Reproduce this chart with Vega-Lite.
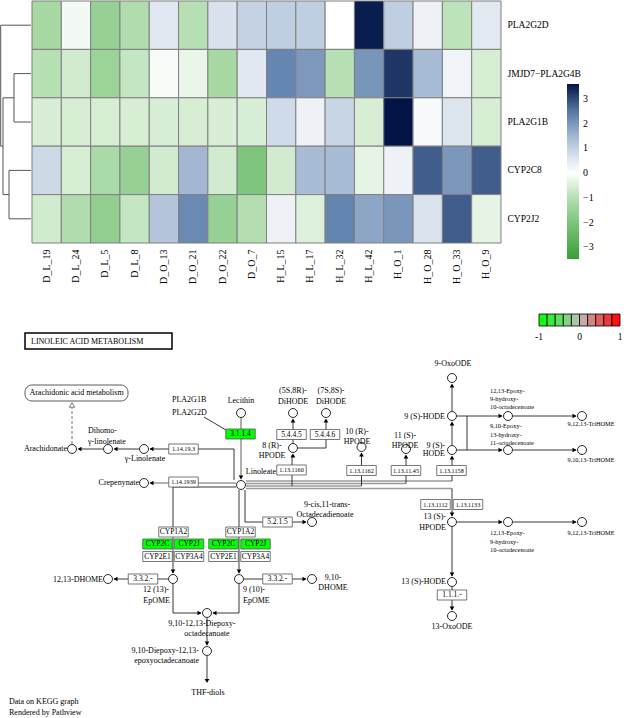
{
  "$schema": "https://vega.github.io/schema/vega-lite/v6.json",
  "padding": 0,
  "background": "white",
  "bounds": "full",
  "spacing": 16,
  "config": {"view": {"stroke": null}, "font": "Liberation Serif", "text": {"font": "Liberation Serif"}},
  "datasets": {
    "heat": [
      {"g":"PLA2G2D","s":"D_L_19","v":-1.23},{"g":"PLA2G2D","s":"D_L_24","v":-0.16},{"g":"PLA2G2D","s":"D_L_5","v":-1.55},{"g":"PLA2G2D","s":"D_L_8","v":-1.07},
      {"g":"PLA2G2D","s":"D_O_13","v":0.51},{"g":"PLA2G2D","s":"D_O_21","v":-0.99},{"g":"PLA2G2D","s":"D_O_22","v":0.65},{"g":"PLA2G2D","s":"D_O_7","v":1.01},
      {"g":"PLA2G2D","s":"H_L_15","v":1.1},{"g":"PLA2G2D","s":"H_L_17","v":1.1},{"g":"PLA2G2D","s":"H_L_32","v":0.0},{"g":"PLA2G2D","s":"H_L_42","v":3.5},
      {"g":"PLA2G2D","s":"H_O_1","v":1.1},{"g":"PLA2G2D","s":"H_O_28","v":0.29},{"g":"PLA2G2D","s":"H_O_33","v":-0.89},{"g":"PLA2G2D","s":"H_O_9","v":0.5},
      {"g":"JMJD7−PLA2G4B","s":"D_L_19","v":-0.97},{"g":"JMJD7−PLA2G4B","s":"D_L_24","v":-0.61},{"g":"JMJD7−PLA2G4B","s":"D_L_5","v":-1.46},{"g":"JMJD7−PLA2G4B","s":"D_L_8","v":-0.78},
      {"g":"JMJD7−PLA2G4B","s":"D_O_13","v":-0.09},{"g":"JMJD7−PLA2G4B","s":"D_O_21","v":-0.28},{"g":"JMJD7−PLA2G4B","s":"D_O_22","v":-1.23},{"g":"JMJD7−PLA2G4B","s":"D_O_7","v":0.51},
      {"g":"JMJD7−PLA2G4B","s":"H_L_15","v":2.29},{"g":"JMJD7−PLA2G4B","s":"H_L_17","v":2.0},{"g":"JMJD7−PLA2G4B","s":"H_L_32","v":-0.96},{"g":"JMJD7−PLA2G4B","s":"H_L_42","v":2.06},
      {"g":"JMJD7−PLA2G4B","s":"H_O_1","v":3.22},{"g":"JMJD7−PLA2G4B","s":"H_O_28","v":1.41},{"g":"JMJD7−PLA2G4B","s":"H_O_33","v":0.26},{"g":"JMJD7−PLA2G4B","s":"H_O_9","v":-0.54},
      {"g":"PLA2G1B","s":"D_L_19","v":-0.53},{"g":"PLA2G1B","s":"D_L_24","v":-0.54},{"g":"PLA2G1B","s":"D_L_5","v":-0.54},{"g":"PLA2G1B","s":"D_L_8","v":-0.54},
      {"g":"PLA2G1B","s":"D_O_13","v":-0.53},{"g":"PLA2G1B","s":"D_O_21","v":-0.54},{"g":"PLA2G1B","s":"D_O_22","v":-0.53},{"g":"PLA2G1B","s":"D_O_7","v":-0.53},
      {"g":"PLA2G1B","s":"H_L_15","v":0.8},{"g":"PLA2G1B","s":"H_L_17","v":0.29},{"g":"PLA2G1B","s":"H_L_32","v":0.94},{"g":"PLA2G1B","s":"H_L_42","v":-0.54},
      {"g":"PLA2G1B","s":"H_O_1","v":3.6},{"g":"PLA2G1B","s":"H_O_28","v":0.14},{"g":"PLA2G1B","s":"H_O_33","v":0.58},{"g":"PLA2G1B","s":"H_O_9","v":-0.54},
      {"g":"CYP2C8","s":"D_L_19","v":0.84},{"g":"CYP2C8","s":"D_L_24","v":-0.54},{"g":"CYP2C8","s":"D_L_5","v":-1.2},{"g":"CYP2C8","s":"D_L_8","v":-1.55},
      {"g":"CYP2C8","s":"D_O_13","v":-0.61},{"g":"CYP2C8","s":"D_O_21","v":1.49},{"g":"CYP2C8","s":"D_O_22","v":-0.61},{"g":"CYP2C8","s":"D_O_7","v":-1.95},
      {"g":"CYP2C8","s":"H_L_15","v":-0.61},{"g":"CYP2C8","s":"H_L_17","v":1.41},{"g":"CYP2C8","s":"H_L_32","v":1.41},{"g":"CYP2C8","s":"H_L_42","v":-0.34},
      {"g":"CYP2C8","s":"H_O_1","v":0.29},{"g":"CYP2C8","s":"H_O_28","v":2.79},{"g":"CYP2C8","s":"H_O_33","v":2.02},{"g":"CYP2C8","s":"H_O_9","v":2.79},
      {"g":"CYP2J2","s":"D_L_19","v":-0.62},{"g":"CYP2J2","s":"D_L_24","v":-1.07},{"g":"CYP2J2","s":"D_L_5","v":-1.63},{"g":"CYP2J2","s":"D_L_8","v":-0.78},
      {"g":"CYP2J2","s":"D_O_13","v":1.28},{"g":"CYP2J2","s":"D_O_21","v":2.24},{"g":"CYP2J2","s":"D_O_22","v":-1.52},{"g":"CYP2J2","s":"D_O_7","v":-1.02},
      {"g":"CYP2J2","s":"H_L_15","v":0.29},{"g":"CYP2J2","s":"H_L_17","v":-0.46},{"g":"CYP2J2","s":"H_L_32","v":2.32},{"g":"CYP2J2","s":"H_L_42","v":1.77},
      {"g":"CYP2J2","s":"H_O_1","v":2.03},{"g":"CYP2J2","s":"H_O_28","v":0.63},{"g":"CYP2J2","s":"H_O_33","v":2.79},{"g":"CYP2J2","s":"H_O_9","v":-0.34}
    ],
    "dendro": [
      {"h1":0,"h2":30.3,"r1":0.5,"r2":0.5},
      {"h1":30.3,"h2":30.3,"r1":0.5,"r2":3.0},
      {"h1":28,"h2":30.3,"r1":3.0,"r2":3.0},
      {"h1":28,"h2":28,"r1":2.0,"r2":4.0},
      {"h1":17,"h2":28,"r1":2.0,"r2":2.0},
      {"h1":17,"h2":17,"r1":1.5,"r2":2.5},
      {"h1":0,"h2":17,"r1":1.5,"r2":1.5},
      {"h1":0,"h2":17,"r1":2.5,"r2":2.5},
      {"h1":22,"h2":28,"r1":4.0,"r2":4.0},
      {"h1":22,"h2":22,"r1":3.5,"r2":4.5},
      {"h1":0,"h2":22,"r1":3.5,"r2":3.5},
      {"h1":0,"h2":22,"r1":4.5,"r2":4.5}
    ],
    "enz": [
      {"x":240.5,"y":434,"t":"3.1.1.4","hit":"yes"},
      {"x":291.5,"y":434.5,"t":"5.4.4.5","hit":"no"},
      {"x":325,"y":434.5,"t":"5.4.4.6","hit":"no"},
      {"x":291.5,"y":470,"t":"1.13.1160","hit":"no"},
      {"x":361.5,"y":470.5,"t":"1.13.1162","hit":"no"},
      {"x":406,"y":470.5,"t":"1.13.11.45","hit":"no"},
      {"x":451.5,"y":470.5,"t":"1.13.1158","hit":"no"},
      {"x":183.5,"y":449,"t":"1.14.19.3","hit":"no"},
      {"x":183.5,"y":482,"t":"1.14.1939","hit":"no"},
      {"x":277.5,"y":522,"t":"5.2.1.5","hit":"no"},
      {"x":173.5,"y":532,"t":"CYP1A2","hit":"no"},
      {"x":157.5,"y":544,"t":"CYP2C","hit":"yes"},
      {"x":189,"y":544,"t":"CYP2J","hit":"yes"},
      {"x":157.5,"y":556.5,"t":"CYP2E1","hit":"no"},
      {"x":189,"y":556.5,"t":"CYP3A4","hit":"no"},
      {"x":240.5,"y":532,"t":"CYP1A2","hit":"no"},
      {"x":223.5,"y":544,"t":"CYP2C","hit":"yes"},
      {"x":255.5,"y":544,"t":"CYP2J","hit":"yes"},
      {"x":223.5,"y":556.5,"t":"CYP2E1","hit":"no"},
      {"x":255.5,"y":556.5,"t":"CYP3A4","hit":"no"},
      {"x":143,"y":579,"t":"3.3.2.-","hit":"no"},
      {"x":277.5,"y":579,"t":"3.3.2.-","hit":"no"},
      {"x":435.5,"y":504.5,"t":"1.13.1112","hit":"no"},
      {"x":468,"y":504.5,"t":"1.13.1133","hit":"no"},
      {"x":452,"y":595,"t":"1.1.1.-","hit":"no"}
    ],
    "cpd": [
      {"x":241,"y":413},{"x":293,"y":413},{"x":326,"y":413},{"x":293,"y":448},{"x":361.5,"y":447},
      {"x":406,"y":449},{"x":452,"y":450},{"x":452,"y":416},{"x":452,"y":378},{"x":508,"y":416},
      {"x":582,"y":416},{"x":508,"y":450},{"x":582,"y":450},{"x":241,"y":485},{"x":144,"y":483},
      {"x":144,"y":449},{"x":108,"y":449},{"x":72,"y":449},{"x":312,"y":522},{"x":173,"y":579},
      {"x":239,"y":579},{"x":108,"y":579},{"x":312,"y":579},{"x":207,"y":613},{"x":207,"y":651},
      {"x":452,"y":522},{"x":508,"y":522},{"x":582,"y":522},{"x":452,"y":582},{"x":452,"y":616}
    ],
    "edges": [
      {"x":150,"y":449,"x2":234,"y2":449,"k":"b"},{"x":234,"y":449,"x2":234,"y2":480,"k":"b"},
      {"x":139,"y":449,"x2":115,"y2":449,"k":"b"},{"x":103,"y":449,"x2":79,"y2":449,"k":"b"},
      {"x":204,"y":417,"x2":226,"y2":430,"k":"b"},{"x":293,"y":443,"x2":293,"y2":420,"k":"b"},
      {"x":298,"y":448,"x2":326,"y2":448,"k":"b"},{"x":326,"y":448,"x2":326,"y2":420,"k":"b"},
      {"x":292,"y":486,"x2":292,"y2":455,"k":"b"},{"x":361.5,"y":486,"x2":361.5,"y2":454,"k":"b"},
      {"x":406,"y":483.5,"x2":406,"y2":456,"k":"b"},{"x":452,"y":481,"x2":452,"y2":457,"k":"b"},
      {"x":452,"y":445,"x2":452,"y2":423,"k":"b"},{"x":452,"y":411,"x2":452,"y2":385,"k":"b"},
      {"x":457,"y":416,"x2":502,"y2":416,"k":"b"},{"x":513,"y":416,"x2":576,"y2":416,"k":"b"},
      {"x":467,"y":416,"x2":467,"y2":450,"k":"b"},{"x":457,"y":450,"x2":502,"y2":450,"k":"b"},
      {"x":513,"y":450,"x2":576,"y2":450,"k":"b"},{"x":452,"y":488.5,"x2":452,"y2":516,"k":"b"},
      {"x":457,"y":522,"x2":502,"y2":522,"k":"b"},{"x":513,"y":522,"x2":576,"y2":522,"k":"b"},
      {"x":452,"y":527,"x2":452,"y2":576,"k":"b"},{"x":452,"y":587,"x2":452,"y2":610,"k":"b"},
      {"x":245,"y":490,"x2":245,"y2":522,"k":"b"},{"x":245,"y":522,"x2":306,"y2":522,"k":"b"},
      {"x":236,"y":487,"x2":173,"y2":487,"k":"b"},{"x":173,"y":487,"x2":173,"y2":573,"k":"b"},
      {"x":239,"y":490,"x2":239,"y2":573,"k":"b"},{"x":168,"y":579,"x2":114,"y2":579,"k":"b"},
      {"x":244,"y":579,"x2":306,"y2":579,"k":"b"},{"x":173,"y":584,"x2":173,"y2":613,"k":"b"},
      {"x":173,"y":613,"x2":201,"y2":613,"k":"b"},{"x":239,"y":584,"x2":239,"y2":613,"k":"b"},
      {"x":239,"y":613,"x2":213,"y2":613,"k":"b"},{"x":207,"y":618,"x2":207,"y2":645,"k":"b"},
      {"x":207,"y":656,"x2":207,"y2":681,"k":"b"},
      {"x":241,"y":418,"x2":241,"y2":477,"k":"g"},{"x":236,"y":483,"x2":150,"y2":483,"k":"g"},
      {"x":246,"y":481,"x2":452,"y2":481,"k":"g"},{"x":246,"y":483.5,"x2":406,"y2":483.5,"k":"g"},
      {"x":246,"y":486,"x2":361.5,"y2":486,"k":"g"},{"x":246,"y":488.5,"x2":452,"y2":488.5,"k":"g"},
      {"x":72,"y":444,"x2":72,"y2":408,"k":"d"}
    ],
    "arrows": [
      {"x":151.5,"y":449,"d":"left"},{"x":115.5,"y":449,"d":"left"},{"x":79.5,"y":449,"d":"left"},{"x":151.5,"y":483,"d":"left"},
      {"x":293,"y":455.5,"d":"up"},{"x":293,"y":420.5,"d":"up"},{"x":326,"y":420.5,"d":"up"},{"x":361.5,"y":454.5,"d":"up"},
      {"x":406,"y":456.5,"d":"up"},{"x":452,"y":457.5,"d":"up"},{"x":452,"y":423.5,"d":"up"},{"x":452,"y":385.5,"d":"up"},
      {"x":500.5,"y":416,"d":"right"},{"x":574.5,"y":416,"d":"right"},{"x":500.5,"y":450,"d":"right"},{"x":574.5,"y":450,"d":"right"},
      {"x":452,"y":514.5,"d":"down"},{"x":500.5,"y":522,"d":"right"},{"x":574.5,"y":522,"d":"right"},{"x":452,"y":574.5,"d":"down"},
      {"x":452,"y":608.5,"d":"down"},{"x":241,"y":477.5,"d":"down"},{"x":304.5,"y":522,"d":"right"},{"x":173,"y":571.5,"d":"down"},
      {"x":239,"y":571.5,"d":"down"},{"x":115.5,"y":579,"d":"left"},{"x":304.5,"y":579,"d":"right"},{"x":199.5,"y":613,"d":"right"},
      {"x":214.5,"y":613,"d":"left"},{"x":207,"y":643.5,"d":"down"},{"x":207,"y":681,"d":"down"}
    ],
    "lab": [
      {"x":241,"y":401,"t":"Lecithin","a":"c","k":"n"},
      {"x":293,"y":391,"t":"(5S,8R)-","a":"c","k":"n"},{"x":293,"y":402,"t":"DiHODE","a":"c","k":"n"},
      {"x":331,"y":391,"t":"(7S,8S)-","a":"c","k":"n"},{"x":331,"y":402,"t":"DiHODE","a":"c","k":"n"},
      {"x":272,"y":446,"t":"8 (R)-","a":"c","k":"n"},{"x":272,"y":456,"t":"HPODE","a":"c","k":"n"},
      {"x":357,"y":432,"t":"10 (R)-","a":"c","k":"n"},{"x":357,"y":442,"t":"HPODE","a":"c","k":"n"},
      {"x":405,"y":436,"t":"11 (S)-","a":"c","k":"n"},{"x":405,"y":446,"t":"HPODE","a":"c","k":"n"},
      {"x":453,"y":364,"t":"9-OxoODE","a":"c","k":"n"},
      {"x":145,"y":459,"t":"γ-Linolenate","a":"c","k":"n"},
      {"x":327,"y":505,"t":"9-cis,11-trans-","a":"c","k":"n"},{"x":325,"y":515,"t":"Octadecadienoate","a":"c","k":"n"},
      {"x":202,"y":624,"t":"9,10-12,13-Diepoxy-","a":"c","k":"n"},{"x":207,"y":634,"t":"octadecanoate","a":"c","k":"n"},
      {"x":208,"y":693,"t":"THF-diols","a":"c","k":"n"},
      {"x":452,"y":627,"t":"13-OxoODE","a":"c","k":"n"},
      {"x":76.5,"y":393,"t":"Arachidonic acid metabolism","a":"c","k":"n"},
      {"x":333,"y":578,"t":"9,10-","a":"c","k":"n"},{"x":333,"y":588,"t":"DHOME","a":"c","k":"n"},
      {"x":67,"y":449,"t":"Arachidonate","a":"r","k":"n"},
      {"x":139,"y":483,"t":"Crepenynate","a":"r","k":"n"},
      {"x":276,"y":472,"t":"Linoleate","a":"r","k":"n"},
      {"x":445,"y":417,"t":"9 (S)-HODE","a":"r","k":"n"},
      {"x":445,"y":446,"t":"9 (S)-","a":"r","k":"n"},{"x":445,"y":454,"t":"HODE","a":"r","k":"n"},
      {"x":446,"y":517,"t":"13 (S)-","a":"r","k":"n"},{"x":446,"y":528,"t":"HPODE","a":"r","k":"n"},
      {"x":446,"y":582,"t":"13 (S)-HODE","a":"r","k":"n"},
      {"x":103,"y":580,"t":"12,13-DHOME","a":"r","k":"n"},
      {"x":199,"y":651,"t":"9,10-Diepoxy-12,13-","a":"r","k":"n"},{"x":199,"y":661,"t":"epoxyoctadecanoate","a":"r","k":"n"},
      {"x":169,"y":590,"t":"12 (13)-","a":"r","k":"n"},{"x":170,"y":601,"t":"EpOME","a":"r","k":"n"},
      {"x":88,"y":431,"t":"Dihomo-","a":"l","k":"n"},{"x":88,"y":442,"t":"γ-linolenate","a":"l","k":"n"},
      {"x":172,"y":400,"t":"PLA2G1B","a":"l","k":"n"},{"x":172,"y":413,"t":"PLA2G2D","a":"l","k":"n"},
      {"x":31,"y":342,"t":"LINOLEIC ACID METABOLISM","a":"l","k":"n"},
      {"x":9,"y":702,"t":"Data on KEGG graph","a":"l","k":"n"},{"x":9,"y":713,"t":"Rendered by Pathview","a":"l","k":"n"},
      {"x":243,"y":590,"t":"9 (10)-","a":"l","k":"n"},{"x":243,"y":601,"t":"EpOME","a":"l","k":"n"},
      {"x":490,"y":391,"t":"12,13-Epoxy-","a":"l","k":"s"},{"x":490,"y":399,"t":"9-hydroxy-","a":"l","k":"s"},{"x":490,"y":407,"t":"10-octadecenoate","a":"l","k":"s"},
      {"x":490,"y":426,"t":"9,10-Epoxy-","a":"l","k":"s"},{"x":490,"y":435,"t":"13-hydroxy-","a":"l","k":"s"},{"x":490,"y":443,"t":"11-octadecenoate","a":"l","k":"s"},
      {"x":490,"y":533,"t":"12,13-Epoxy-","a":"l","k":"s"},{"x":490,"y":542,"t":"9-hydroxy-","a":"l","k":"s"},{"x":490,"y":550,"t":"10-octadecenoate","a":"l","k":"s"},
      {"x":591,"y":424,"t":"9,12,13-TriHOME","a":"c","k":"s"},
      {"x":591,"y":460,"t":"9,10,13-TriHOME","a":"c","k":"s"},
      {"x":591,"y":533,"t":"9,12,13-TriHOME","a":"c","k":"s"}
    ],
    "key": [
      {"lo":-1.0,"hi":-0.8,"m":-0.9},{"lo":-0.8,"hi":-0.6,"m":-0.7},{"lo":-0.6,"hi":-0.4,"m":-0.5},{"lo":-0.4,"hi":-0.2,"m":-0.3},{"lo":-0.2,"hi":0.0,"m":-0.1},
      {"lo":0.0,"hi":0.2,"m":0.1},{"lo":0.2,"hi":0.4,"m":0.3},{"lo":0.4,"hi":0.6,"m":0.5},{"lo":0.6,"hi":0.8,"m":0.7},{"lo":0.8,"hi":1.0,"m":0.9}
    ]
  },
  "vconcat": [
    {
      "bounds": "flush",
      "spacing": 1,
      "hconcat": [
        {
          "width": 31,
          "height": 242,
          "data": {"name": "dendro"},
          "mark": {"type": "rule", "color": "#555555", "strokeWidth": 1},
          "encoding": {
            "x": {"field": "h1", "type": "quantitative", "scale": {"domain": [0, 31], "reverse": true, "nice": false, "zero": false}, "axis": null},
            "x2": {"field": "h2"},
            "y": {"field": "r1", "type": "quantitative", "scale": {"domain": [0, 5], "reverse": true, "nice": false, "zero": false}, "axis": null},
            "y2": {"field": "r2"}
          }
        },
        {
          "width": 469,
          "height": 242,
          "data": {"name": "heat"},
          "mark": {"type": "rect", "stroke": "#7f7f7f", "strokeWidth": 1},
          "encoding": {
            "x": {
              "field": "s", "type": "nominal",
              "sort": ["D_L_19","D_L_24","D_L_5","D_L_8","D_O_13","D_O_21","D_O_22","D_O_7","H_L_15","H_L_17","H_L_32","H_L_42","H_O_1","H_O_28","H_O_33","H_O_9"],
              "scale": {"paddingInner": 0, "paddingOuter": 0},
              "axis": {"title": null, "orient": "bottom", "labelAngle": 270, "ticks": false, "domain": false, "labelFontSize": 10, "labelPadding": 6, "labelFont": "Liberation Serif", "labelColor": "#000000"}
            },
            "y": {
              "field": "g", "type": "nominal",
              "sort": ["PLA2G2D","JMJD7−PLA2G4B","PLA2G1B","CYP2C8","CYP2J2"],
              "scale": {"paddingInner": 0, "paddingOuter": 0},
              "axis": {"title": null, "orient": "right", "ticks": false, "domain": false, "labelFontSize": 9.5, "labelPadding": 6, "labelFont": "Liberation Serif", "labelColor": "#000000"}
            },
            "color": {
              "field": "v", "type": "quantitative",
              "scale": {"domain": [-3.47, -2, -1, 0, 1.2, 2.4, 3.6], "range": ["#38a036","#7dc47b","#b5dfb2","#ffffff","#b9c9de","#5e80ac","#021446"], "interpolate": "rgb"},
              "legend": {"title": null, "orient": "none", "legendX": 567, "legendY": 83, "direction": "vertical", "gradientLength": 175, "gradientThickness": 12, "gradientStrokeWidth": 0, "values": [-3,-2,-1,0,1,2,3], "labelFontSize": 10, "labelFont": "Liberation Serif", "labelOffset": 4, "labelColor": "#000000"}
            }
          }
        }
      ]
    },
    {
      "width": 626,
      "height": 418,
      "resolve": {"scale": {"x": "independent", "fill": "independent"}},
      "layer": [
        {
          "encoding": {
            "x": {"field": "x", "type": "quantitative", "scale": {"domain": [0, 626], "nice": false, "zero": false}, "axis": null},
            "y": {"field": "y", "type": "quantitative", "scale": {"domain": [300, 718], "reverse": true, "nice": false, "zero": false}, "axis": null}
          },
          "layer": [
            {"data": {"name": "edges"}, "transform": [{"filter": "datum.k == 'g'"}], "mark": {"type": "rule", "color": "#9a9a9a", "strokeWidth": 1.6}, "encoding": {"x2": {"field": "x2"}, "y2": {"field": "y2"}}},
            {"data": {"name": "edges"}, "transform": [{"filter": "datum.k == 'b'"}], "mark": {"type": "rule", "color": "#222222", "strokeWidth": 0.9}, "encoding": {"x2": {"field": "x2"}, "y2": {"field": "y2"}}},
            {"data": {"name": "edges"}, "transform": [{"filter": "datum.k == 'd'"}], "mark": {"type": "rule", "color": "#777777", "strokeWidth": 1, "strokeDash": [3, 2]}, "encoding": {"x2": {"field": "x2"}, "y2": {"field": "y2"}}},
            {"data": {"values": [{"x": 25, "x2": 172, "y": 333, "y2": 349}]}, "mark": {"type": "rect", "fill": "white", "stroke": "black", "strokeWidth": 1.5}, "encoding": {"x2": {"field": "x2"}, "y2": {"field": "y2"}}},
            {"data": {"values": [{"x": 25, "x2": 128, "y": 385, "y2": 401}]}, "mark": {"type": "rect", "fill": "white", "stroke": "#333333", "strokeWidth": 0.8, "cornerRadius": 7}, "encoding": {"x2": {"field": "x2"}, "y2": {"field": "y2"}}},
            {"data": {"name": "enz"}, "mark": {"type": "point", "shape": "M-1,-0.34H1V0.34H-1Z", "size": 870, "filled": true, "opacity": 1, "stroke": "#555555", "strokeWidth": 0.8}, "encoding": {"fill": {"field": "hit", "type": "nominal", "scale": {"domain": ["yes", "no"], "range": ["#00ff00", "#ffffff"]}, "legend": null}}},
            {"data": {"name": "enz"}, "transform": [{"filter": "length(datum.t) <= 7"}], "mark": {"type": "text", "fontSize": 7.5, "baseline": "middle", "align": "center", "font": "Liberation Serif", "color": "#000000"}, "encoding": {"text": {"field": "t"}}},
            {"data": {"name": "enz"}, "transform": [{"filter": "length(datum.t) > 7"}], "mark": {"type": "text", "fontSize": 6.2, "baseline": "middle", "align": "center", "font": "Liberation Serif", "color": "#000000"}, "encoding": {"text": {"field": "t"}}},
            {"data": {"name": "cpd"}, "mark": {"type": "point", "shape": "circle", "size": 80, "filled": true, "fill": "white", "opacity": 1, "stroke": "#111111", "strokeWidth": 0.9}},
            {"data": {"name": "arrows"}, "mark": {"type": "point", "size": 22, "filled": true, "opacity": 1, "color": "#000000"}, "encoding": {"shape": {"field": "d", "type": "nominal", "scale": {"domain": ["up", "down", "left", "right"], "range": ["triangle-up", "triangle-down", "triangle-left", "triangle-right"]}, "legend": null}}},
            {"data": {"values": [{"x": 72, "y": 405}]}, "mark": {"type": "point", "shape": "triangle-up", "size": 28, "filled": true, "fill": "white", "stroke": "#555555", "strokeWidth": 0.8, "opacity": 1}},
            {"data": {"name": "lab"}, "transform": [{"filter": "datum.k == 'n' && datum.a == 'c'"}], "mark": {"type": "text", "fontSize": 8, "align": "center", "baseline": "middle", "font": "Liberation Serif", "color": "#000000"}, "encoding": {"text": {"field": "t"}}},
            {"data": {"name": "lab"}, "transform": [{"filter": "datum.k == 'n' && datum.a == 'r'"}], "mark": {"type": "text", "fontSize": 8, "align": "right", "baseline": "middle", "font": "Liberation Serif", "color": "#000000"}, "encoding": {"text": {"field": "t"}}},
            {"data": {"name": "lab"}, "transform": [{"filter": "datum.k == 'n' && datum.a == 'l'"}], "mark": {"type": "text", "fontSize": 8, "align": "left", "baseline": "middle", "font": "Liberation Serif", "color": "#000000"}, "encoding": {"text": {"field": "t"}}},
            {"data": {"name": "lab"}, "transform": [{"filter": "datum.k == 's' && datum.a == 'l'"}], "mark": {"type": "text", "fontSize": 6.3, "align": "left", "baseline": "middle", "font": "Liberation Serif", "color": "#000000"}, "encoding": {"text": {"field": "t"}}},
            {"data": {"name": "lab"}, "transform": [{"filter": "datum.k == 's' && datum.a == 'c'"}], "mark": {"type": "text", "fontSize": 6.3, "align": "center", "baseline": "middle", "font": "Liberation Serif", "color": "#000000"}, "encoding": {"text": {"field": "t"}}}
          ]
        },
        {
          "layer": [
            {
              "data": {"name": "key"},
              "mark": {"type": "rect", "stroke": "#000000", "strokeWidth": 0.8},
              "encoding": {
                "x": {"field": "lo", "type": "quantitative", "scale": {"domain": [-1, 1], "range": [539, 620], "nice": false, "zero": false}, "axis": null},
                "x2": {"field": "hi"},
                "y": {"datum": 314, "type": "quantitative", "scale": {"domain": [300, 718], "reverse": true, "nice": false, "zero": false}, "axis": null},
                "y2": {"datum": 326},
                "fill": {"field": "m", "type": "quantitative", "scale": {"domain": [-1, 0, 1], "range": ["#00ff00", "#bebebe", "#ff0000"], "interpolate": "rgb"}, "legend": null}
              }
            },
            {
              "data": {"values": [{"v": -1, "t": "-1"}, {"v": 0, "t": "0"}, {"v": 1, "t": "1"}]},
              "mark": {"type": "text", "fontSize": 9.5, "align": "center", "baseline": "middle", "font": "Liberation Serif", "color": "#000000"},
              "encoding": {
                "x": {"field": "v", "type": "quantitative"},
                "y": {"datum": 337, "type": "quantitative"},
                "text": {"field": "t"}
              }
            }
          ]
        }
      ]
    }
  ]
}
